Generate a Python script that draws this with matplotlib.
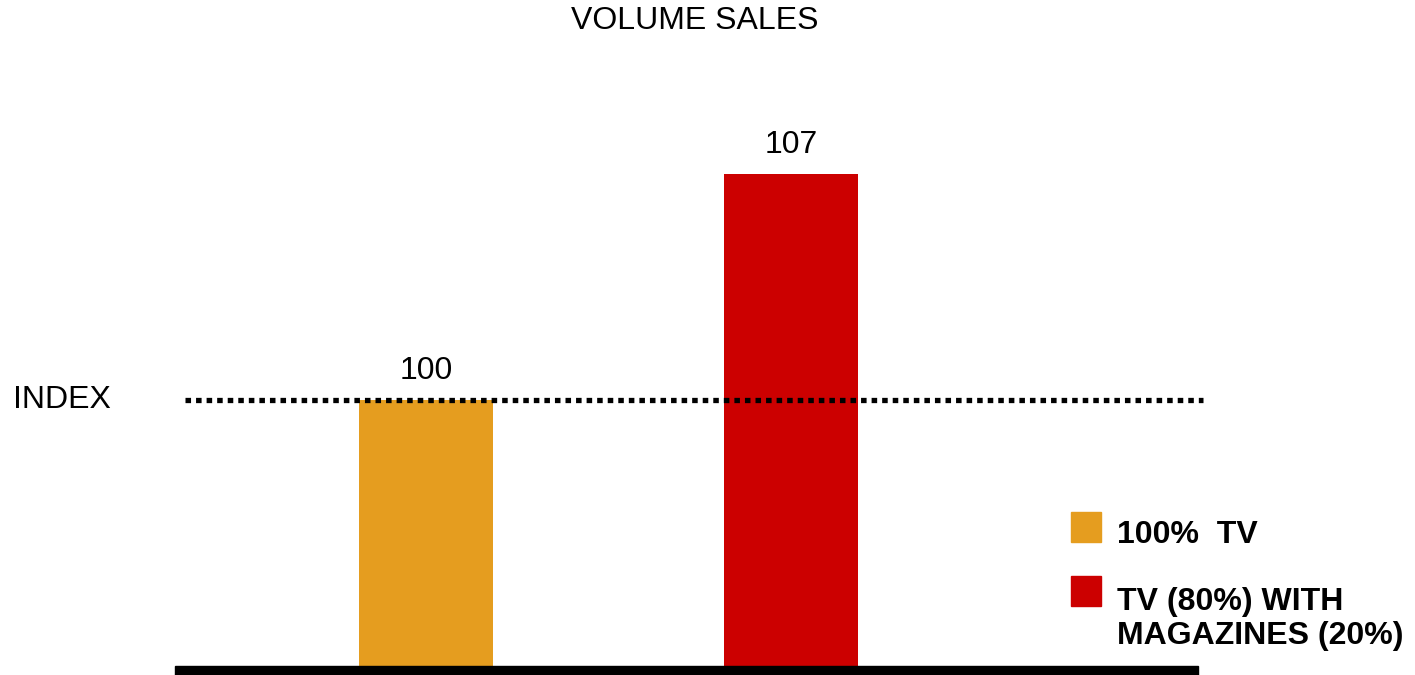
import matplotlib
matplotlib.use('Agg')
from matplotlib import pyplot as plt
from matplotlib.patches import Rectangle

plt.rcParams['font.family'] = ['Liberation Sans', 'DejaVu Sans']

# data
categories = ['100%  TV', 'TV (80%) WITH\nMAGAZINES (20%)']
values = [100, 107]
barColors = ['#E59D1F', '#CC0000']
indexValue = 100
title = 'VOLUME SALES'

W, H = 1415, 675
figure = plt.figure(figsize=(W / 100, H / 100), dpi=100)

# axes span: x 175..1198 px, y 0..666 px (from top)
axis = figure.add_axes([175 / W, 9 / H, 1023 / W, 666 / H])
axis.set_xlim(-0.688, 2.115)
axis.set_ylim(91.76, 112.38)
axis.axis('off')

positions = list(range(len(values)))
axis.bar(positions, values, width=0.367, color=barColors, zorder=1)

# thick base line
axis.add_patch(Rectangle((0, -9 / 666), 1, 9 / 666, transform=axis.transAxes,
                         color='black', clip_on=False, zorder=3))

# dotted index line
axis.plot([-0.660, 2.129], [indexValue, indexValue], color='black',
          linewidth=3.8, linestyle=(0, (1.05, 0.95)), dash_capstyle='butt',
          clip_on=False, zorder=2)

for x, v in zip(positions, values):
    axis.annotate(str(v), (x, v), xytext=(0, 21), textcoords='offset points',
                  ha='center', va='center', fontsize=23, color='black')

figure.text(695 / W, 1 - 21 / H, title, ha='center', va='center', fontsize=23)
figure.text(13 / W, 1 - 400 / H, 'INDEX', ha='left', va='center', fontsize=23)

# legend
legendSquareTops = [512, 576]
legendTextCenters = [535, 619]
for label, color, top, center in zip(categories, barColors, legendSquareTops, legendTextCenters):
    figure.patches.append(Rectangle((1071 / W, 1 - (top + 30) / H), 30 / W, 30 / H,
                                    transform=figure.transFigure, color=color))
    figure.text(1117 / W, 1 - center / H, label, ha='left', va='center',
                fontsize=23, fontweight='bold', linespacing=1.2)

figure.savefig('out.png', dpi=100)
